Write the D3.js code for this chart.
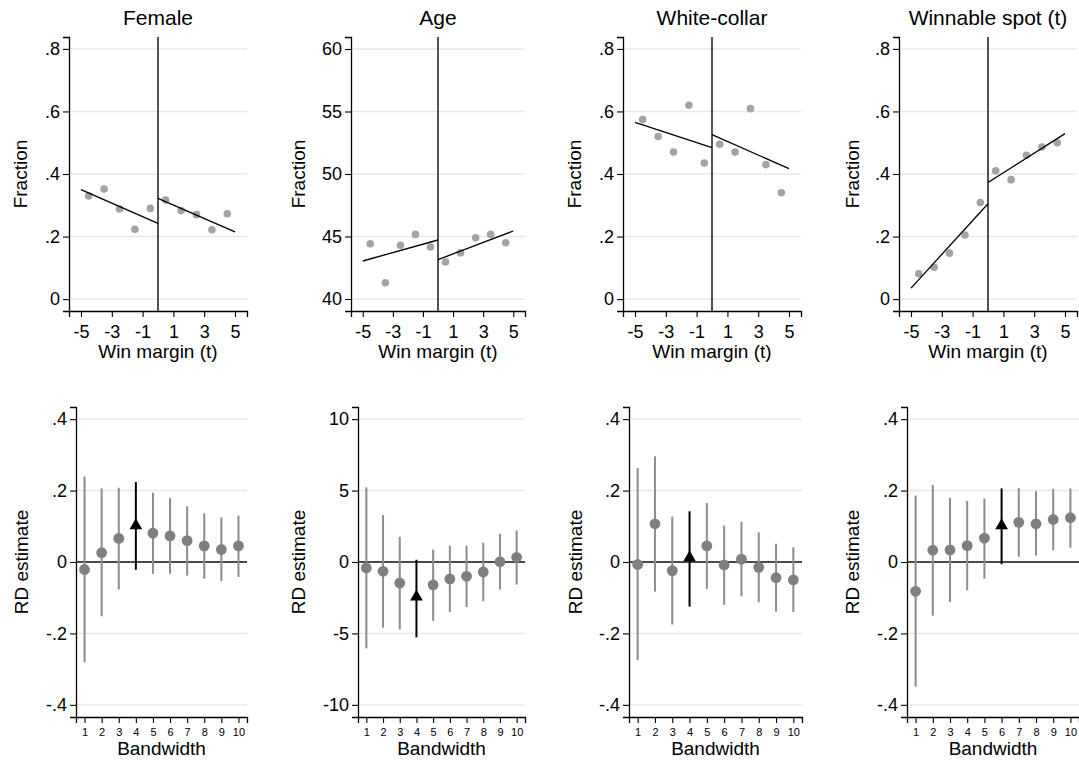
<!DOCTYPE html>
<html>
<head>
<meta charset="utf-8">
<script src="https://cdn.jsdelivr.net/npm/d3@7"></script>
<style>
  body { margin: 0; background: #fff; }
  svg { display: block; font-family: "Liberation Sans", Arial, sans-serif; }
</style>
</head>
<body>
<svg id="chart" width="1079" height="762"></svg>
<script>
// ---------- DATA ----------
const panelTitles = ["Female", "Age", "White-collar", "Winnable spot (t)"];
const binX = [-4.5, -3.5, -2.5, -1.5, -0.5, 0.5, 1.5, 2.5, 3.5, 4.5];
const femaleBins     = [0.330, 0.352, 0.288, 0.223, 0.290, 0.317, 0.283, 0.270, 0.222, 0.273];
const ageBins        = [44.42, 41.30, 44.30, 45.17, 44.16, 42.96, 43.70, 44.90, 45.17, 44.50];
const whiteBins      = [0.574, 0.520, 0.470, 0.620, 0.435, 0.495, 0.470, 0.609, 0.430, 0.340];
const winnableBins   = [0.081, 0.102, 0.147, 0.205, 0.309, 0.410, 0.382, 0.460, 0.486, 0.500];
// fitted lines: [value at -5, value at 0] and [value at 0, value at 5]
const femaleFitL = [0.350, 0.242],  femaleFitR = [0.322, 0.215];
const ageFitL    = [43.04, 44.72],  ageFitR    = [43.15, 45.44];
const whiteFitL  = [0.565, 0.484],  whiteFitR  = [0.526, 0.417];
const winFitL    = [0.035, 0.305],  winFitR    = [0.373, 0.529];
const topXTicks = [-5, -3, -1, 1, 3, 5];
const fracTicks = [0, 0.2, 0.4, 0.6, 0.8];
const ageTicks  = [40, 45, 50, 55, 60];

const bandwidths = [1, 2, 3, 4, 5, 6, 7, 8, 9, 10];
const femaleEst = [-0.021, 0.026, 0.066, 0.102, 0.081, 0.073, 0.060, 0.045, 0.035, 0.045];
const femaleLo  = [-0.281, -0.152, -0.077, -0.022, -0.033, -0.033, -0.038, -0.047, -0.053, -0.042];
const femaleHi  = [0.239, 0.206, 0.208, 0.224, 0.194, 0.179, 0.156, 0.136, 0.125, 0.130];
const ageEst = [-0.42, -0.65, -1.47, -2.44, -1.60, -1.19, -1.00, -0.70, 0.02, 0.33];
const ageLo  = [-6.05, -4.60, -4.72, -5.28, -4.12, -3.49, -3.16, -2.74, -1.93, -1.58];
const ageHi  = [5.23, 3.28, 1.77, 0.16, 0.86, 1.14, 1.14, 1.35, 1.98, 2.21];
const whiteEst = [-0.007, 0.107, -0.024, 0.012, 0.045, -0.008, 0.008, -0.015, -0.044, -0.050];
const whiteLo  = [-0.275, -0.083, -0.175, -0.125, -0.075, -0.120, -0.096, -0.113, -0.139, -0.140];
const whiteHi  = [0.263, 0.296, 0.127, 0.142, 0.165, 0.102, 0.112, 0.083, 0.051, 0.041];
const winEst = [-0.082, 0.033, 0.034, 0.046, 0.067, 0.102, 0.111, 0.107, 0.119, 0.124];
const winLo  = [-0.349, -0.150, -0.112, -0.079, -0.047, -0.006, 0.015, 0.018, 0.033, 0.040];
const winHi  = [0.186, 0.216, 0.180, 0.171, 0.178, 0.206, 0.207, 0.198, 0.205, 0.206];
const optimalBw = [4, 4, 4, 6];
const rdFracTicks = [-0.4, -0.2, 0, 0.2, 0.4];
const rdAgeTicks  = [-10, -5, 0, 5, 10];

// ---------- LAYOUT ----------
const svg = d3.select("#chart");
const fmt = v => {
  let s = (Math.round(v * 100) / 100).toString();
  return s.replace(/^0\./, ".").replace(/^-0\./, "-.");
};
const topRow = { top: 37, bottom: 311 };
const botRow = { top: 407, bottom: 717 };
const topX = [[69, 247], [351, 525], [623, 801], [899, 1077]];
const botX = [[76, 247], [358, 525], [629, 802], [907, 1079]];
const topYLab = [20, 298, 574, 852];
const botYLab = [21, 298, 575, 852];
const TICK_FS = 18, AXT_FS = 19, TITLE_FS = 21, BW_FS = 11;

const topData = [
  { bins: femaleBins, fl: femaleFitL, fr: femaleFitR, ticks: fracTicks, dom: [-0.038, 0.838] },
  { bins: ageBins, fl: ageFitL, fr: ageFitR, ticks: ageTicks, dom: [39.04, 60.96] },
  { bins: whiteBins, fl: whiteFitL, fr: whiteFitR, ticks: fracTicks, dom: [-0.038, 0.838] },
  { bins: winnableBins, fl: winFitL, fr: winFitR, ticks: fracTicks, dom: [-0.038, 0.838] }
];
const botData = [
  { est: femaleEst, lo: femaleLo, hi: femaleHi, ticks: rdFracTicks, dom: [-0.434, 0.434] },
  { est: ageEst, lo: ageLo, hi: ageHi, ticks: rdAgeTicks, dom: [-10.85, 10.85] },
  { est: whiteEst, lo: whiteLo, hi: whiteHi, ticks: rdFracTicks, dom: [-0.434, 0.434] },
  { est: winEst, lo: winLo, hi: winHi, ticks: rdFracTicks, dom: [-0.434, 0.434] }
];

function styleAxis(g, fontSize) {
  g.select(".domain").attr("stroke", "#000").attr("stroke-width", 1.3);
  g.selectAll(".tick line").attr("stroke", "#000").attr("stroke-width", 1.1);
  g.selectAll(".tick text").attr("fill", "#000").style("font-size", fontSize + "px");
}

// ---------- TOP ROW ----------
topData.forEach((d, i) => {
  const [x0, x1] = topX[i];
  const x = d3.scaleLinear().domain([-5.78, 5.78]).range([x0, x1]);
  const y = d3.scaleLinear().domain(d.dom).range([topRow.bottom, topRow.top]);
  const g = svg.append("g");

  g.selectAll(".grid").data(d.ticks).join("line")
    .attr("x1", x0).attr("x2", x1)
    .attr("y1", v => y(v)).attr("y2", v => y(v))
    .attr("stroke", "#e8e8e8").attr("stroke-width", 1.4);

  g.append("line").attr("x1", x(0)).attr("x2", x(0))
    .attr("y1", topRow.top).attr("y2", topRow.bottom)
    .attr("stroke", "#1a1a1a").attr("stroke-width", 1.5);

  g.selectAll(".dot").data(d.bins).join("circle")
    .attr("cx", (v, k) => x(binX[k])).attr("cy", v => y(v)).attr("r", 3.8)
    .attr("fill", "#a3a3a3");

  const line = d3.line().x(p => x(p[0])).y(p => y(p[1]));
  g.append("path").attr("d", line([[-5, d.fl[0]], [0, d.fl[1]]]))
    .attr("stroke", "#000").attr("stroke-width", 1.3).attr("fill", "none");
  g.append("path").attr("d", line([[0, d.fr[0]], [5, d.fr[1]]]))
    .attr("stroke", "#000").attr("stroke-width", 1.3).attr("fill", "none");

  const ya = g.append("g").attr("transform", `translate(${x0},0)`)
    .call(d3.axisLeft(y).tickValues(d.ticks).tickFormat(fmt).tickSizeOuter(0).tickSize(6).tickPadding(3));
  styleAxis(ya, TICK_FS);
  const xa = g.append("g").attr("transform", `translate(0,${topRow.bottom})`)
    .call(d3.axisBottom(x).tickValues(topXTicks).tickFormat(d3.format("d")).tickSizeOuter(0).tickSize(6).tickPadding(8));
  styleAxis(xa, TICK_FS);
  xa.selectAll(".tick text").text(v => String(v));

  g.append("text").attr("x", (x0 + x1) / 2).attr("y", 25).attr("text-anchor", "middle")
    .style("font-size", TITLE_FS + "px").text(panelTitles[i]);
  g.append("text").attr("x", (x0 + x1) / 2).attr("y", 358).attr("text-anchor", "middle")
    .style("font-size", AXT_FS + "px").text("Win margin (t)");
  g.append("text").attr("transform", `translate(${topYLab[i] + 7},${(topRow.top + topRow.bottom) / 2}) rotate(-90)`)
    .attr("text-anchor", "middle").style("font-size", AXT_FS + "px").text("Fraction");
});

// ---------- BOTTOM ROW ----------
botData.forEach((d, i) => {
  const [x0, x1] = botX[i];
  const x = d3.scaleLinear().domain([0.5, 10.5]).range([x0, x1]);
  const y = d3.scaleLinear().domain(d.dom).range([botRow.bottom, botRow.top]);
  const g = svg.append("g");

  g.selectAll(".grid").data(d.ticks).join("line")
    .attr("x1", x0).attr("x2", x1)
    .attr("y1", v => y(v)).attr("y2", v => y(v))
    .attr("stroke", "#e8e8e8").attr("stroke-width", 1.4);

  g.append("line").attr("x1", x0).attr("x2", x1).attr("y1", y(0)).attr("y2", y(0))
    .attr("stroke", "#4a4a4a").attr("stroke-width", 2);

  const opt = optimalBw[i];
  const rows = bandwidths.map((b, k) => ({ b, est: d.est[k], lo: d.lo[k], hi: d.hi[k] }));

  g.selectAll(".ci").data(rows).join("line")
    .attr("x1", r => x(r.b)).attr("x2", r => x(r.b))
    .attr("y1", r => y(r.lo)).attr("y2", r => y(r.hi))
    .attr("stroke", r => r.b === opt ? "#000" : "#8c8c8c")
    .attr("stroke-width", 2);

  g.selectAll(".pt").data(rows.filter(r => r.b !== opt)).join("circle")
    .attr("cx", r => x(r.b)).attr("cy", r => y(r.est)).attr("r", 5.4)
    .attr("fill", "#7f7f7f");

  g.selectAll(".tri").data(rows.filter(r => r.b === opt)).join("path")
    .attr("d", d3.symbol().type(d3.symbolTriangle).size(70))
    .attr("transform", r => `translate(${x(r.b)},${y(r.est)})`)
    .attr("fill", "#000");

  const ya = g.append("g").attr("transform", `translate(${x0},0)`)
    .call(d3.axisLeft(y).tickValues(d.ticks).tickFormat(fmt).tickSizeOuter(0).tickSize(6).tickPadding(3));
  styleAxis(ya, TICK_FS);
  const xa = g.append("g").attr("transform", `translate(0,${botRow.bottom})`)
    .call(d3.axisBottom(x).tickValues(bandwidths).tickFormat(d3.format("d")).tickSizeOuter(0).tickSize(6).tickPadding(5));
  styleAxis(xa, BW_FS);

  g.append("text").attr("x", (x0 + x1) / 2).attr("y", 755).attr("text-anchor", "middle")
    .style("font-size", AXT_FS + "px").text("Bandwidth");
  g.append("text").attr("transform", `translate(${botYLab[i] + 7},${(botRow.top + botRow.bottom) / 2}) rotate(-90)`)
    .attr("text-anchor", "middle").style("font-size", AXT_FS + "px").text("RD estimate");
});
</script>
</body>
</html>
